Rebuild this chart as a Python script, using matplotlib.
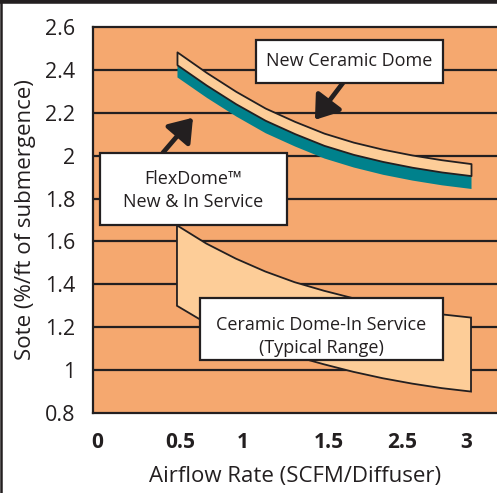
import matplotlib
matplotlib.use("Agg")
import matplotlib.pyplot as plt
from matplotlib.patches import Rectangle, FancyArrowPatch
from matplotlib.lines import Line2D

# ---- data ----
x_new = [0.5, 0.75, 1.0, 1.25, 1.5, 1.75, 2.0, 2.25, 2.5, 2.75, 3.0]
new_ceramic_top = [2.484, 2.388, 2.300, 2.222, 2.160, 2.105, 2.063, 2.030, 2.003, 1.981, 1.963]
new_ceramic_bottom = [2.424, 2.329, 2.242, 2.165, 2.103, 2.048, 2.006, 1.973, 1.946, 1.924, 1.907]
flexdome_bottom = [2.367, 2.272, 2.185, 2.107, 2.045, 1.989, 1.947, 1.913, 1.886, 1.864, 1.847]

x_service_upper = [0.5, 0.75, 1.0, 1.25, 1.5, 1.75, 2.0, 2.25, 2.5, 2.75, 3.0]
service_upper = [1.675, 1.59, 1.52, 1.46, 1.41, 1.37, 1.335, 1.305, 1.28, 1.26, 1.245]
x_service_lower = [0.5, 0.7, 1.0, 1.25, 1.5, 1.75, 2.0, 2.25, 2.5, 2.75, 3.0]
service_lower = [1.30, 1.235, 1.165, 1.11, 1.065, 1.027, 0.992, 0.962, 0.937, 0.916, 0.90]

y_ticks = [0.8, 1.0, 1.2, 1.4, 1.6, 1.8, 2.0, 2.2, 2.4, 2.6]
y_tick_labels = ["0.8", "1", "1.2", "1.4", "1.6", "1.8", "2", "2.2", "2.4", "2.6"]
x_tick_pos = [-0.18, 0.526, 1.061, 1.793, 2.413, 2.957]
x_tick_labels = ["0", "0.5", "1", "1.5", "2.5", "3"]

# ---- style ----
BG = "#F5A86F"
PEACH = "#FDCD98"
TEAL = "#00818C"
INK = "#231F20"
FONT = "Open Sans"

fig = plt.figure(figsize=(4.97, 4.93), dpi=100)
fig.patch.set_facecolor("white")
ax = fig.add_axes([93 / 497, 80 / 493, 404 / 497, 386 / 493])
ax.set_facecolor(BG)
ax.set_xlim(-0.214, 3.221)
ax.set_ylim(0.8, 2.6)

# grid lines
for yv in y_ticks[1:-1]:
    ax.axhline(yv, color=INK, lw=1.6, zorder=1)

for side in ["left", "bottom", "top"]:
    ax.spines[side].set_color(INK)
    ax.spines[side].set_linewidth(1.6)
ax.spines["right"].set_visible(False)

# FlexDome teal band
ax.fill_between(x_new, flexdome_bottom, new_ceramic_bottom, color=TEAL, lw=0, zorder=3)
# New ceramic dome band
ax.fill_between(x_new, new_ceramic_bottom, new_ceramic_top, facecolor=PEACH,
                edgecolor=INK, lw=1.3, zorder=4)

# Ceramic in service range
poly_x = list(x_service_upper) + list(reversed(x_service_lower))
poly_y = list(service_upper) + list(reversed(service_lower))
ax.fill(poly_x, poly_y, facecolor=PEACH, edgecolor=INK, lw=1.3, zorder=3)

# boxes
def box(x0, x1, y0, y1, text, ty_list):
    ax.add_patch(Rectangle((x0, y0), x1 - x0, y1 - y0, facecolor="white",
                           edgecolor=INK, lw=1.6, zorder=6))
    lines = text.split("\n")
    for t, ty in zip(lines, ty_list):
        ax.text((x0 + x1) / 2, ty, t, ha="center", va="center", fontsize=13,
                family=FONT, color=INK, zorder=7)

box(1.172, 2.762, 2.340, 2.540, "New Ceramic Dome", [2.442])
box(-0.155, 1.435, 1.679, 2.014, "FlexDome\u2122\nNew & In Service", [1.890, 1.785])
box(0.696, 2.762, 1.047, 1.335, "Ceramic Dome-In Service\n(Typical Range)", [1.21, 1.105])

# arrows
for (tx, ty), (hx, hy) in [((0.381, 2.014), (0.636, 2.177)),
                           ((1.912, 2.340), (1.673, 2.167))]:
    ax.add_patch(FancyArrowPatch((tx, ty), (hx, hy),
                                 arrowstyle="-|>,head_length=8.5,head_width=6",
                                 mutation_scale=1.6, lw=3.4, color=INK, zorder=5,
                                 shrinkA=0, shrinkB=0))

ax.set_yticks(y_ticks)
ax.set_yticklabels(y_tick_labels, family=FONT, fontsize=15.5, color=INK)
ax.set_xticks(x_tick_pos)
ax.set_xticklabels(x_tick_labels, family=FONT, fontsize=15, fontweight="bold", color=INK)
ax.tick_params(axis="y", length=0, pad=13)
ax.tick_params(axis="x", length=0, pad=14)

ax.set_xlabel("Airflow Rate (SCFM/Diffuser)", family=FONT, fontsize=16, color=INK, labelpad=9)
ax.set_ylabel("Sote (%/ft of submergence)", family=FONT, fontsize=16, color=INK, labelpad=6)

# image border (top bar and left line)
fig.add_artist(Line2D([0, 1], [0.997, 0.997], transform=fig.transFigure, color=INK, lw=4))
fig.add_artist(Line2D([0.002, 0.002], [0, 1], transform=fig.transFigure, color=INK, lw=1.8))

fig.savefig("out.png", dpi=100, facecolor=fig.get_facecolor())
